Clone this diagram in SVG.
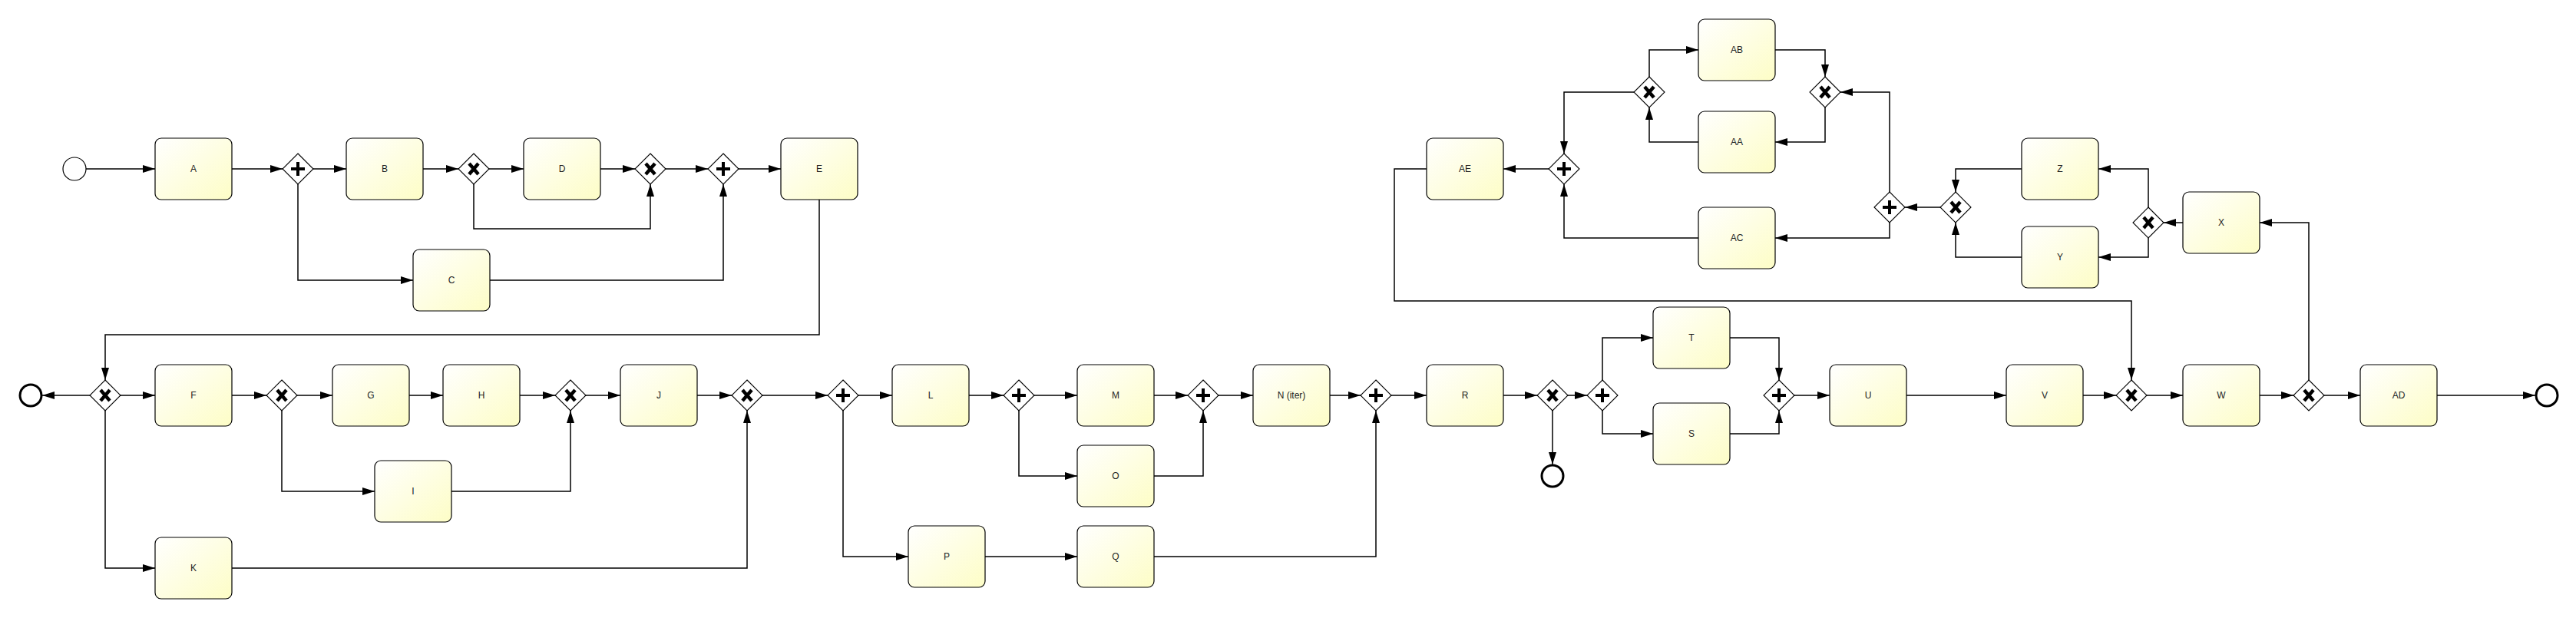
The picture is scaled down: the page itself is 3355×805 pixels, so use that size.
<svg xmlns="http://www.w3.org/2000/svg" xmlns:xlink="http://www.w3.org/1999/xlink" width="3355" height="805" viewBox="0 0 3355 805">
<style>
.task rect{fill:url(#tg);stroke:#000;stroke-width:1.2}
.task text{font-family:"Liberation Sans",Arial,sans-serif;font-size:12px;fill:#222;text-anchor:middle;dominant-baseline:central}
.start{fill:#fff;stroke:#000;stroke-width:1.2}
.end{fill:#fff;stroke:#000;stroke-width:3}
#edges path{fill:none;stroke:#000;stroke-width:1.5;marker-end:url(#arr)}
</style>
<defs>
<linearGradient id="tg" x1="0" y1="0" x2="1" y2="1">
<stop offset="0" stop-color="#ffffff"/>
<stop offset="1" stop-color="#fdfdc6"/>
</linearGradient>
<marker id="arr" markerUnits="userSpaceOnUse" markerWidth="16" markerHeight="10" refX="16" refY="5" orient="auto">
<path d="M0,0 L16,5 L0,10 z" fill="#000"/>
</marker>
<g id="gx"><polygon points="0,-20 20,0 0,20 -20,0" fill="#fff" stroke="#000" stroke-width="1.1"/><path d="M-6,-7 L6,7 M6,-7 L-6,7" fill="none" stroke="#000" stroke-width="4.5"/></g>
<g id="gp"><polygon points="0,-20 20,0 0,20 -20,0" fill="#fff" stroke="#000" stroke-width="1.1"/><path d="M-9,0 H9 M0,-9 V9" fill="none" stroke="#000" stroke-width="4"/></g>
</defs>
<rect width="3355" height="805" fill="#fff"/>

<g id="edges">
<path d="M112,220 H202"/>
<path d="M302,220 H368"/>
<path d="M408,220 H451"/>
<path d="M388,240 V365 H538"/>
<path d="M551,220 H597"/>
<path d="M637,220 H682"/>
<path d="M617,240 V298 H847 V240"/>
<path d="M782,220 H827"/>
<path d="M867,220 H922"/>
<path d="M638,365 H942 V240"/>
<path d="M962,220 H1017"/>
<path d="M1067,260 V436 H137 V495"/>
<path d="M117,515 H55"/>
<path d="M157,515 H202"/>
<path d="M137,535 V740 H202"/>
<path d="M302,515 H347"/>
<path d="M387,515 H433"/>
<path d="M367,535 V640 H488"/>
<path d="M533,515 H577"/>
<path d="M677,515 H723"/>
<path d="M588,640 H743 V535"/>
<path d="M763,515 H808"/>
<path d="M908,515 H953"/>
<path d="M302,740 H973 V535"/>
<path d="M993,515 H1078"/>
<path d="M1118,515 H1162"/>
<path d="M1098,535 V725 H1183"/>
<path d="M1262,515 H1307"/>
<path d="M1347,515 H1403"/>
<path d="M1327,535 V620 H1403"/>
<path d="M1503,515 H1547"/>
<path d="M1503,620 H1567 V535"/>
<path d="M1587,515 H1632"/>
<path d="M1732,515 H1772"/>
<path d="M1283,725 H1403"/>
<path d="M1503,725 H1792 V535"/>
<path d="M1812,515 H1858"/>
<path d="M1958,515 H2002"/>
<path d="M2022,535 V605"/>
<path d="M2042,515 H2067"/>
<path d="M2087,495 V440 H2153"/>
<path d="M2087,535 V565 H2153"/>
<path d="M2253,440 H2317 V495"/>
<path d="M2253,565 H2317 V535"/>
<path d="M2337,515 H2383"/>
<path d="M2483,515 H2613"/>
<path d="M2713,515 H2756"/>
<path d="M2796,515 H2843"/>
<path d="M2943,515 H2987"/>
<path d="M3027,515 H3074"/>
<path d="M3174,515 H3302"/>
<path d="M3007,495 V290 H2943"/>
<path d="M2843,290 H2818"/>
<path d="M2798,270 V220 H2733"/>
<path d="M2798,310 V335 H2733"/>
<path d="M2633,220 H2547 V250"/>
<path d="M2633,335 H2547 V290"/>
<path d="M2527,270 H2481"/>
<path d="M2461,250 V120 H2397"/>
<path d="M2461,290 V310 H2312"/>
<path d="M2312,65 H2377 V100"/>
<path d="M2377,140 V185 H2312"/>
<path d="M2212,185 H2148 V140"/>
<path d="M2148,100 V65 H2212"/>
<path d="M2128,120 H2037 V200"/>
<path d="M2212,310 H2037 V240"/>
<path d="M2017,220 H1958"/>
<path d="M1858,220 H1816 V392 H2776 V495"/>
</g>

<g id="start"><circle class="start" cx="97" cy="220" r="15"/></g>
<g id="end1"><circle class="end" cx="40" cy="515" r="14"/></g>
<g id="end2"><circle class="end" cx="2022" cy="620" r="14"/></g>
<g id="end3"><circle class="end" cx="3317" cy="515" r="14"/></g>

<g id="A" class="task"><rect x="202" y="180" width="100" height="80" rx="8"/><text x="252" y="220">A</text></g>
<g id="B" class="task"><rect x="451" y="180" width="100" height="80" rx="8"/><text x="501" y="220">B</text></g>
<g id="C" class="task"><rect x="538" y="325" width="100" height="80" rx="8"/><text x="588" y="365">C</text></g>
<g id="D" class="task"><rect x="682" y="180" width="100" height="80" rx="8"/><text x="732" y="220">D</text></g>
<g id="E" class="task"><rect x="1017" y="180" width="100" height="80" rx="8"/><text x="1067" y="220">E</text></g>
<g id="F" class="task"><rect x="202" y="475" width="100" height="80" rx="8"/><text x="252" y="515">F</text></g>
<g id="G" class="task"><rect x="433" y="475" width="100" height="80" rx="8"/><text x="483" y="515">G</text></g>
<g id="H" class="task"><rect x="577" y="475" width="100" height="80" rx="8"/><text x="627" y="515">H</text></g>
<g id="I" class="task"><rect x="488" y="600" width="100" height="80" rx="8"/><text x="538" y="640">I</text></g>
<g id="J" class="task"><rect x="808" y="475" width="100" height="80" rx="8"/><text x="858" y="515">J</text></g>
<g id="K" class="task"><rect x="202" y="700" width="100" height="80" rx="8"/><text x="252" y="740">K</text></g>
<g id="L" class="task"><rect x="1162" y="475" width="100" height="80" rx="8"/><text x="1212" y="515">L</text></g>
<g id="M" class="task"><rect x="1403" y="475" width="100" height="80" rx="8"/><text x="1453" y="515">M</text></g>
<g id="O" class="task"><rect x="1403" y="580" width="100" height="80" rx="8"/><text x="1453" y="620">O</text></g>
<g id="N" class="task"><rect x="1632" y="475" width="100" height="80" rx="8"/><text x="1682" y="515">N (iter)</text></g>
<g id="P" class="task"><rect x="1183" y="685" width="100" height="80" rx="8"/><text x="1233" y="725">P</text></g>
<g id="Q" class="task"><rect x="1403" y="685" width="100" height="80" rx="8"/><text x="1453" y="725">Q</text></g>
<g id="R" class="task"><rect x="1858" y="475" width="100" height="80" rx="8"/><text x="1908" y="515">R</text></g>
<g id="T" class="task"><rect x="2153" y="400" width="100" height="80" rx="8"/><text x="2203" y="440">T</text></g>
<g id="S" class="task"><rect x="2153" y="525" width="100" height="80" rx="8"/><text x="2203" y="565">S</text></g>
<g id="U" class="task"><rect x="2383" y="475" width="100" height="80" rx="8"/><text x="2433" y="515">U</text></g>
<g id="V" class="task"><rect x="2613" y="475" width="100" height="80" rx="8"/><text x="2663" y="515">V</text></g>
<g id="W" class="task"><rect x="2843" y="475" width="100" height="80" rx="8"/><text x="2893" y="515">W</text></g>
<g id="AD" class="task"><rect x="3074" y="475" width="100" height="80" rx="8"/><text x="3124" y="515">AD</text></g>
<g id="X" class="task"><rect x="2843" y="250" width="100" height="80" rx="8"/><text x="2893" y="290">X</text></g>
<g id="Y" class="task"><rect x="2633" y="295" width="100" height="80" rx="8"/><text x="2683" y="335">Y</text></g>
<g id="Z" class="task"><rect x="2633" y="180" width="100" height="80" rx="8"/><text x="2683" y="220">Z</text></g>
<g id="AA" class="task"><rect x="2212" y="145" width="100" height="80" rx="8"/><text x="2262" y="185">AA</text></g>
<g id="AB" class="task"><rect x="2212" y="25" width="100" height="80" rx="8"/><text x="2262" y="65">AB</text></g>
<g id="AC" class="task"><rect x="2212" y="270" width="100" height="80" rx="8"/><text x="2262" y="310">AC</text></g>
<g id="AE" class="task"><rect x="1858" y="180" width="100" height="80" rx="8"/><text x="1908" y="220">AE</text></g>

<g id="g1"><use href="#gp" x="388" y="220"/></g>
<g id="g2"><use href="#gx" x="617" y="220"/></g>
<g id="g3"><use href="#gx" x="847" y="220"/></g>
<g id="g4"><use href="#gp" x="942" y="220"/></g>
<g id="g5"><use href="#gx" x="137" y="515"/></g>
<g id="g6"><use href="#gx" x="367" y="515"/></g>
<g id="g7"><use href="#gx" x="743" y="515"/></g>
<g id="g8"><use href="#gx" x="973" y="515"/></g>
<g id="g9"><use href="#gp" x="1098" y="515"/></g>
<g id="g10"><use href="#gp" x="1327" y="515"/></g>
<g id="g11"><use href="#gp" x="1567" y="515"/></g>
<g id="g12"><use href="#gp" x="1792" y="515"/></g>
<g id="g13"><use href="#gx" x="2022" y="515"/></g>
<g id="g14"><use href="#gp" x="2087" y="515"/></g>
<g id="g15"><use href="#gp" x="2317" y="515"/></g>
<g id="g16"><use href="#gx" x="2776" y="515"/></g>
<g id="g17"><use href="#gx" x="3007" y="515"/></g>
<g id="g18"><use href="#gp" x="2037" y="220"/></g>
<g id="g19"><use href="#gx" x="2148" y="120"/></g>
<g id="g20"><use href="#gx" x="2377" y="120"/></g>
<g id="g21"><use href="#gp" x="2461" y="270"/></g>
<g id="g22"><use href="#gx" x="2547" y="270"/></g>
<g id="g23"><use href="#gx" x="2798" y="290"/></g>
</svg>
